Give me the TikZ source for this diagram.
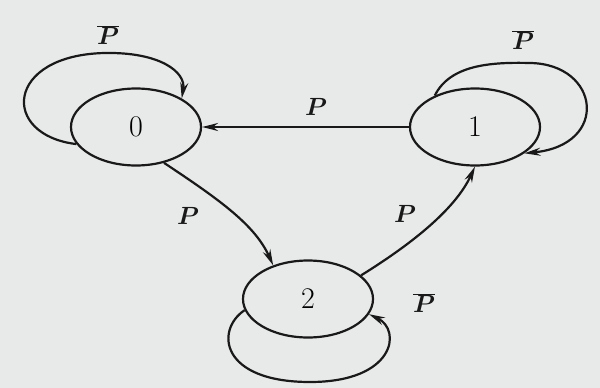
\documentclass[tikz,border=0pt]{standalone}
\usetikzlibrary{shapes.geometric,arrows.meta}
\definecolor{bg}{RGB}{232,234,234}
\definecolor{ink}{RGB}{25,25,25}
\begin{document}
\begin{tikzpicture}[x=1pt,y=-1pt,
  st/.style={ellipse,draw=ink,line width=2.2pt,minimum width=130pt,minimum height=77pt,inner sep=0pt,font=\fontsize{30}{34}\selectfont},
  edge/.style={draw=ink,line width=2.2pt,-{Stealth[length=16pt,width=8pt]}},
  lbl/.style={font=\fontsize{30}{34}\selectfont\boldmath,text=ink,inner sep=0pt}]
\fill[bg] (0,0) rectangle (600,388);
\useasboundingbox (0,0) rectangle (600,388);
\node[st] (n0) at (136,127) {0};
\node[st] (n1) at (475,127) {1};
\node[st] (n2) at (308,299) {2};
% loops
\draw[edge] (n0.196) .. controls (0,135) and (5,55) .. (105,53) .. controls (160,52) and (186,72) .. (n0.32);
\draw[edge] (n1.142) .. controls (450,65) and (490,62) .. (530,63) .. controls (600,64) and (610,145) .. (n1.-28);
\draw[edge] (n2.190) .. controls (215,330) and (220,382) .. (310,382) .. controls (395,382) and (402,330) .. (n2.-14);
% edges
\draw[edge] (n1.west) -- (n0.east);
\draw[edge] (n0.-52) .. controls (220,200) and (255,225) .. (n2.136);
\draw[edge] (n2.24) .. controls (410,245) and (455,210) .. (n1.south);
% labels
\node[lbl] (l0) at (108,35) {$\overline{P}$};
\node[lbl] (l1) at (523,40) {$\overline{P}$};
\node[lbl] (l2) at (424,303) {$\overline{P}$};
\node[lbl] (a) at (316,107) {$P$};
\node[lbl] (b) at (188,216) {$P$};
\node[lbl] (c) at (405,214) {$P$};
\end{tikzpicture}
\end{document}
